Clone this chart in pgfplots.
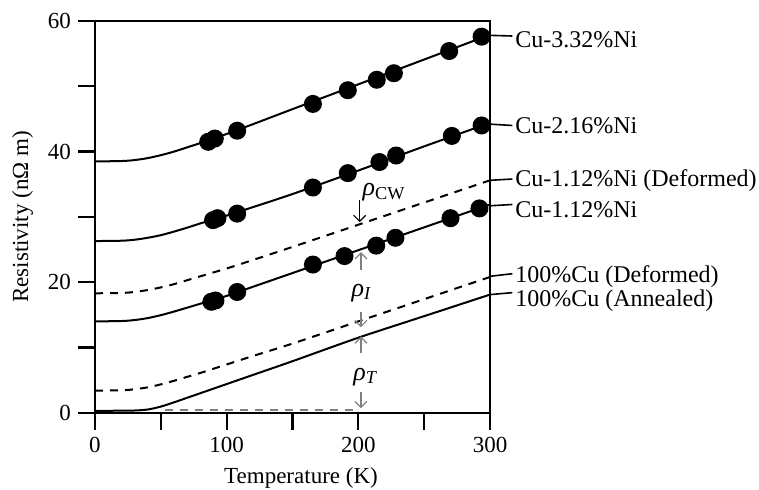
\documentclass[border=0pt]{standalone}
\usepackage{pgfplots}
\pgfplotsset{compat=1.18}
\usepackage{fontspec}
\setmainfont{Liberation Serif}
\usetikzlibrary{calc,arrows.meta}

\begin{document}
\begin{tikzpicture}
\begin{axis}[
  name=ax,
  scale only axis,
  width=197.5pt, height=195.9pt,
  xmin=0, xmax=300, ymin=0, ymax=60,
  clip=false,
  axis line style={line width=1.1pt},
  tick pos=left, tick align=outside,
  major tick length=8.5pt,
  every tick/.style={black, line width=1.1pt},
  xtick={0,50,...,300}, xticklabels={0,,100,,200,,300},
  ytick={0,10,...,60}, yticklabels={0,,20,,40,,60},
  /pgf/number format/assume math mode=true,
  tick label style={font=\fontsize{11.5}{13}\selectfont},
  xlabel={Temperature (K)}, ylabel={Resistivity (nΩ m)},
  label style={font=\fontsize{11.5}{13}\selectfont},
  xlabel style={at={(axis description cs:0.5215,-0.1667)}, anchor=center},
  ylabel style={at={(axis description cs:-0.1835,0.5)}, anchor=center},
  every axis plot/.append style={line width=1pt, black},
]
% Cu-3.32%Ni
\addplot[smooth] coordinates {(0,38.5)(20,38.55)(30,38.7)(40,39.0)(50,39.45)(60,40.0)(70,40.65)(80,41.3)(90,42.0)(100,42.7)(120,44.2)(150,46.5)(200,50.3)(250,54.1)(300,57.9)};
\addplot[only marks, mark=*, mark size=4pt] coordinates {(86,41.5)(91,42.0)(108,43.2)(165.5,47.3)(192,49.4)(214,51.0)(227,52.0)(269,55.4)(293.6,57.6)};
% Cu-2.16%Ni
\addplot[smooth] coordinates {(0,26.3)(20,26.35)(30,26.5)(40,26.8)(50,27.2)(60,27.75)(70,28.35)(80,29.0)(90,29.6)(100,30.2)(120,31.5)(150,33.5)(200,37.1)(250,40.8)(300,44.4)};
\addplot[only marks, mark=*, mark size=4pt] coordinates {(89.7,29.5)(93,29.8)(108,30.5)(165.5,34.5)(192,36.7)(216,38.4)(228.7,39.4)(271,42.4)(293.6,44.0)};
% Cu-1.12%Ni (Deformed)
\addplot[smooth, dash pattern=on 4pt off 3.5pt] coordinates {(0,18.3)(20,18.35)(30,18.5)(40,18.8)(50,19.2)(60,19.7)(70,20.3)(80,20.9)(90,21.5)(100,22.1)(120,23.4)(150,25.4)(200,28.8)(250,32.2)(300,35.6)};
% Cu-1.12%Ni
\addplot[smooth] coordinates {(0,14.0)(20,14.05)(30,14.2)(40,14.5)(50,14.95)(60,15.5)(70,16.1)(80,16.7)(90,17.3)(100,17.9)(120,19.3)(150,21.4)(200,24.9)(250,28.4)(300,31.9)};
\addplot[only marks, mark=*, mark size=4pt] coordinates {(88.4,17.0)(91.5,17.2)(108,18.5)(165.5,22.7)(189.5,24.0)(213.6,25.6)(228.2,26.8)(270,29.8)(292,31.3)};
% 100%Cu (Deformed)
\addplot[smooth, dash pattern=on 4pt off 3.5pt] coordinates {(0,3.4)(20,3.45)(30,3.6)(40,3.9)(50,4.35)(60,4.9)(70,5.5)(80,6.1)(90,6.75)(100,7.4)(120,8.7)(150,10.6)(200,14.0)(250,17.4)(300,20.8)};
% 100%Cu (Annealed)
\addplot[smooth] coordinates {(0,0.3)(20,0.32)(30,0.35)(40,0.5)(50,0.95)(60,1.6)(70,2.3)(80,3.0)(90,3.7)(100,4.4)(120,5.8)(150,7.9)(200,11.5)(250,14.8)(300,18.1)};
% residual level
\addplot[gray, dash pattern=on 4pt off 3.5pt] coordinates {(53,0.45)(200,0.45)};

% annotations
\draw[-{Straight Barb[length=3pt]}, line width=0.6pt] (axis cs:201,32.6) -- (axis cs:201,29.2);
\node[anchor=base west, inner sep=0, font=\fontsize{13}{14}\selectfont] at (axis cs:203,33.2) {\itshape ρ\textsubscript{\upshape CW}};
\draw[-{Straight Barb[length=3pt]}, line width=0.6pt, gray] (axis cs:202,21.9) -- (axis cs:202,24.6);
\draw[-{Straight Barb[length=3pt]}, line width=0.6pt, gray] (axis cs:202,15.5) -- (axis cs:202,13.1);
\node[anchor=base west, inner sep=0, font=\fontsize{13}{14}\selectfont] at (axis cs:194.6,17.85) {\itshape ρ\textsubscript{I}};
\draw[-{Straight Barb[length=3pt]}, line width=0.6pt, gray] (axis cs:202,9.1) -- (axis cs:202,11.7);
\draw[-{Straight Barb[length=3pt]}, line width=0.6pt, gray] (axis cs:202,3.2) -- (axis cs:202,0.7);
\node[anchor=base west, inner sep=0, font=\fontsize{13}{14}\selectfont] at (axis cs:195.9,5.0) {\itshape ρ\textsubscript{T}};

% right-hand labels
\begin{scope}[every node/.style={anchor=west, inner sep=0, font=\fontsize{12}{14}\selectfont}]
\draw[line width=0.8pt] (axis cs:300,57.8) -- (axis cs:317,57.7);
\node at (axis cs:319,57.2) {Cu-3.32\%Ni};
\draw[line width=0.8pt] (axis cs:300,44.2) -- (axis cs:317,44.0);
\node at (axis cs:319,44.0) {Cu-2.16\%Ni};
\draw[line width=0.8pt] (axis cs:300,35.6) -- (axis cs:317,35.8);
\node at (axis cs:319,35.5) {Cu-1.12\%Ni (Deformed)};
\draw[line width=0.8pt] (axis cs:300,31.7) -- (axis cs:317,31.9);
\node at (axis cs:319,31.1) {Cu-1.12\%Ni};
\draw[line width=0.8pt] (axis cs:300,20.9) -- (axis cs:317,21.3);
\node at (axis cs:319,20.8) {100\%Cu (Deformed)};
\draw[line width=0.8pt] (axis cs:300,18.1) -- (axis cs:317,18.4);
\node at (axis cs:319,17.2) {100\%Cu (Annealed)};
\end{scope}
\end{axis}
\pgfresetboundingbox
\path[use as bounding box] ($(ax.south west)+(-47.5pt,-38.15pt)$) rectangle ($(ax.north east)+(134.5pt,10.5pt)$);
\end{tikzpicture}
\end{document}
